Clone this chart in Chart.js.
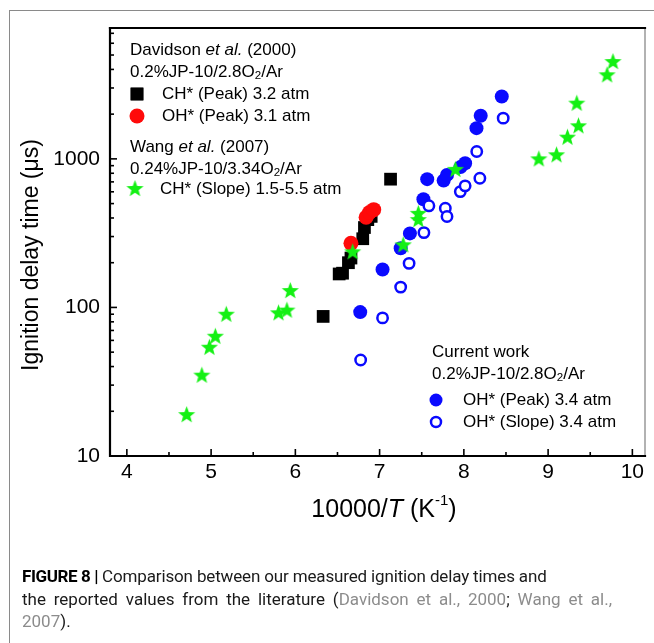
<!DOCTYPE html>
<html><head><meta charset="utf-8">
<script src="https://cdn.jsdelivr.net/npm/chart.js@4.4.0/dist/chart.umd.min.js"></script>
<style>
html,body{margin:0;padding:0;background:#fff;}
#wrap{position:relative;width:654px;height:643px;overflow:hidden;}
#frame{position:absolute;left:9px;top:10px;width:700px;height:700px;border-top:1.5px solid #8a8a8a;border-left:1.5px solid #8a8a8a;}
canvas{position:absolute;left:0;top:0;}
#cap{position:absolute;left:22px;top:565px;font-family:Roboto,'Liberation Sans',sans-serif;font-size:17px;line-height:22.5px;color:#1a1a1a;white-space:nowrap;}
#cap b{font-weight:700;color:#000;letter-spacing:-0.4px}
.g{color:#8c8c8c}
</style></head><body>
<div id="wrap"><div id="frame"></div><canvas id="c" width="654" height="643"></canvas>
<div id="cap"><div style="letter-spacing:-0.15px"><b>FIGURE 8 |</b> Comparison between our measured ignition delay times and</div><div style="width:590px;text-align:justify;text-align-last:justify">the reported values from the literature (<span class="g">Davidson et al., 2000</span>; <span class="g">Wang et al.,</span></div><div><span class="g">2007</span>).</div></div></div>
<script>
// ---- data (x = 10000/T in 1/K, y = ignition delay time in microseconds) ----
const davidsonCH_x = [6.33, 6.52, 6.56, 6.63, 6.66, 6.80, 6.82, 6.86, 6.90, 7.13];
const davidsonCH_y = [87, 168, 170, 200, 215, 290, 345, 390, 410, 730];
const davidsonOH_x = [6.66, 6.84, 6.88, 6.93];
const davidsonOH_y = [270, 405, 435, 455];
const wang_x = [4.71, 4.89, 4.98, 5.05, 5.18, 5.80, 5.90, 5.94, 6.68, 7.28, 7.46, 7.46, 7.90, 8.89, 9.10, 9.23, 9.36, 9.34, 9.70, 9.77];
const wang_y = [19, 35, 54, 64, 90, 92, 96, 130, 237, 264, 390, 430, 850, 1000, 1065, 1400, 1670, 2370, 3680, 4520];
const peak_x = [6.77, 7.035, 7.25, 7.36, 7.52, 7.565, 7.76, 7.80, 7.96, 8.015, 8.15, 8.20, 8.45];
const peak_y = [93, 180, 250, 315, 535, 730, 714, 780, 880, 935, 1610, 1950, 2630];
const slope_x = [6.775, 7.035, 7.25, 7.35, 7.526, 7.585, 7.78, 7.80, 7.958, 8.015, 8.153, 8.19, 8.467];
const slope_y = [44.3, 85, 137, 198, 319, 483, 465, 409, 602, 658, 1120, 741, 1880];
const xMajorTicks = [4, 5, 6, 7, 8, 9, 10];
const xMinorTicks = [4.5, 5.5, 6.5, 7.5, 8.5, 9.5];
const yMajorTicks = [10, 100, 1000];
const yMinorTicks = [20,30,40,50,60,70,80,90,200,300,400,500,600,700,800,900,2000,3000,4000,5000,6000,7000];

const zip = (xs, ys) => xs.map((x, i) => ({x, y: ys[i]}));
const FONT = "'Liberation Sans', Arial, Helvetica, sans-serif";
const GREEN = '#14f014', BLUE = '#0a0aff', RED = '#ff0a0a';

function starPath(g, cx, cy, R, r) {
  g.beginPath();
  for (let i = 0; i < 10; i++) {
    const a = -Math.PI / 2 + i * Math.PI / 5;
    const rr = i % 2 === 0 ? R : r;
    const px = cx + rr * Math.cos(a), py = cy + rr * Math.sin(a);
    i === 0 ? g.moveTo(px, py) : g.lineTo(px, py);
  }
  g.closePath();
}
const starImg = (() => {
  const c = document.createElement('canvas'); c.width = 19; c.height = 19;
  const g = c.getContext('2d'); g.fillStyle = GREEN;
  starPath(g, 9.5, 10, 9, 3.8); g.fill(); return c;
})();

function rich(ctx, parts, x, y, size) {
  for (const p of parts) {
    const s = p.sub ? size * 0.68 : p.sup ? size * 0.6 : size;
    ctx.font = (p.it ? 'italic ' : '') + s + 'px ' + FONT;
    ctx.fillText(p.t, x, y + (p.sub ? size * 0.25 : p.sup ? -size * 0.38 : 0));
    x += ctx.measureText(p.t).width;
  }
  return x;
}
function richWidth(ctx, parts, size) {
  let w = 0;
  for (const p of parts) {
    const s = p.sub ? size * 0.68 : p.sup ? size * 0.6 : size;
    ctx.font = (p.it ? 'italic ' : '') + s + 'px ' + FONT;
    w += ctx.measureText(p.t).width;
  }
  return w;
}

const decor = {
  id: 'decor',
  afterDatasetsDraw(chart) {
    const {ctx, chartArea: a, scales: {x, y}} = chart;
    ctx.save();
    // frame
    ctx.lineCap = 'square';
    ctx.strokeStyle = '#999'; ctx.lineWidth = 1.5;
    ctx.beginPath(); ctx.moveTo(a.right, a.top); ctx.lineTo(a.right, a.bottom); ctx.stroke();
    ctx.strokeStyle = '#000'; ctx.lineWidth = 2.2;
    ctx.beginPath(); ctx.moveTo(a.left, a.top); ctx.lineTo(a.right, a.top); ctx.stroke();
    ctx.beginPath(); ctx.moveTo(a.left, a.top); ctx.lineTo(a.left, a.bottom); ctx.lineTo(a.right, a.bottom); ctx.stroke();
    // inward ticks
    ctx.lineWidth = 1.6; ctx.lineCap = 'butt';
    const tk = (vals, len, horiz) => vals.forEach(v => {
      ctx.beginPath();
      if (horiz) { const px = x.getPixelForValue(v); ctx.moveTo(px, a.bottom); ctx.lineTo(px, a.bottom - len); }
      else { const py = y.getPixelForValue(v); ctx.moveTo(a.left, py); ctx.lineTo(a.left + len, py); }
      ctx.stroke();
    });
    tk(xMajorTicks, 7, true); tk(xMinorTicks, 4, true);
    tk(yMajorTicks, 7, false); tk(yMinorTicks, 4, false);

    // axis titles
    ctx.fillStyle = '#000'; ctx.textBaseline = 'middle'; ctx.textAlign = 'left';
    ctx.save(); ctx.translate(32, 255); ctx.rotate(-Math.PI / 2);
    ctx.textAlign = 'center'; ctx.font = '23px ' + FONT;
    ctx.fillText('Ignition delay time (\u03bcs)', 0, 0);
    ctx.restore();
    const xt = [{t: '10000/'}, {t: 'T', it: true}, {t: ' (K'}, {t: '-1', sup: true}, {t: ')'}];
    const xs = 25; const w = richWidth(ctx, xt, xs);
    ctx.textAlign = 'left';
    rich(ctx, xt, 384 - w / 2, 510, xs);

    // legends
    const L = 17;
    rich(ctx, [{t: 'Davidson '}, {t: 'et al.', it: true}, {t: ' (2000)'}], 130, 50, L);
    rich(ctx, [{t: '0.2%JP-10/2.8O'}, {t: '2', sub: true}, {t: '/Ar'}], 130, 72, L);
    Chart.helpers.drawPoint(ctx, {pointStyle: 'rect', radius: 9, borderWidth: 0}, 137, 94);
    ctx.fillStyle = '#000'; ctx.fill();
    rich(ctx, [{t: 'CH* (Peak) 3.2 atm'}], 162, 94, L);
    ctx.fillStyle = RED; ctx.beginPath(); ctx.arc(137, 116, 7.5, 0, 2 * Math.PI); ctx.fill();
    ctx.fillStyle = '#000';
    rich(ctx, [{t: 'OH* (Peak) 3.1 atm'}], 162, 116, L);
    rich(ctx, [{t: 'Wang '}, {t: 'et al.', it: true}, {t: ' (2007)'}], 130, 147, L);
    rich(ctx, [{t: '0.24%JP-10/3.34O'}, {t: '2', sub: true}, {t: '/Ar'}], 130, 169, L);
    ctx.drawImage(starImg, 135 - 9.5, 189 - 10);
    rich(ctx, [{t: 'CH* (Slope) 1.5-5.5 atm'}], 160, 189, L);

    rich(ctx, [{t: 'Current work'}], 432, 352, L);
    rich(ctx, [{t: '0.2%JP-10/2.8O'}, {t: '2', sub: true}, {t: '/Ar'}], 432, 374, L);
    ctx.fillStyle = BLUE; ctx.beginPath(); ctx.arc(436, 400, 6.5, 0, 2 * Math.PI); ctx.fill();
    ctx.fillStyle = '#000';
    rich(ctx, [{t: 'OH* (Peak) 3.4 atm'}], 463, 400, L);
    ctx.strokeStyle = BLUE; ctx.lineWidth = 2.5; ctx.beginPath(); ctx.arc(436, 422, 5, 0, 2 * Math.PI); ctx.stroke();
    rich(ctx, [{t: 'OH* (Slope) 3.4 atm'}], 463, 422, L);
    ctx.restore();
  }
};

new Chart(document.getElementById('c'), {
  type: 'scatter',
  data: {datasets: [
    {label: 'CH* (Slope) 1.5-5.5 atm', data: zip(wang_x, wang_y), pointStyle: starImg, order: 0},
    {label: 'OH* (Slope) 3.4 atm', data: zip(slope_x, slope_y), pointStyle: 'circle', pointRadius: 5.2, borderWidth: 2.5, borderColor: BLUE, backgroundColor: '#fff', order: 1},
    {label: 'OH* (Peak) 3.4 atm', data: zip(peak_x, peak_y), pointStyle: 'circle', pointRadius: 7, borderWidth: 0, backgroundColor: BLUE, order: 2},
    {label: 'OH* (Peak) 3.1 atm', data: zip(davidsonOH_x, davidsonOH_y), pointStyle: 'circle', pointRadius: 7.5, borderWidth: 0, backgroundColor: RED, order: 3},
    {label: 'CH* (Peak) 3.2 atm', data: zip(davidsonCH_x, davidsonCH_y), pointStyle: 'rect', pointRadius: 9, borderWidth: 0, backgroundColor: '#000', order: 4}
  ]},
  options: {
    responsive: false, animation: false, events: [],
    plugins: {legend: {display: false}, tooltip: {enabled: false}},
    layout: {padding: {top: 28, right: 4, left: 0, bottom: 0}},
    scales: {
      x: {type: 'linear', min: 3.8, max: 10.15,
        afterFit(s) { s.height = 187; },
        afterBuildTicks(s) { s.ticks = xMajorTicks.map(v => ({value: v})); },
        ticks: {font: {family: FONT, size: 21}, color: '#000', padding: 4, maxRotation: 0, callback: v => String(v)},
        grid: {display: false, drawTicks: false}, border: {display: false}},
      y: {type: 'logarithmic', min: 10, max: 7600,
        afterFit(s) { s.width = 110; },
        afterBuildTicks(s) { s.ticks = yMajorTicks.map(v => ({value: v})); },
        ticks: {font: {family: FONT, size: 21}, color: '#000', padding: 10, callback: v => String(v)},
        grid: {display: false, drawTicks: false}, border: {display: false}}
    }
  },
  plugins: [decor]
});
</script>
</body></html>
